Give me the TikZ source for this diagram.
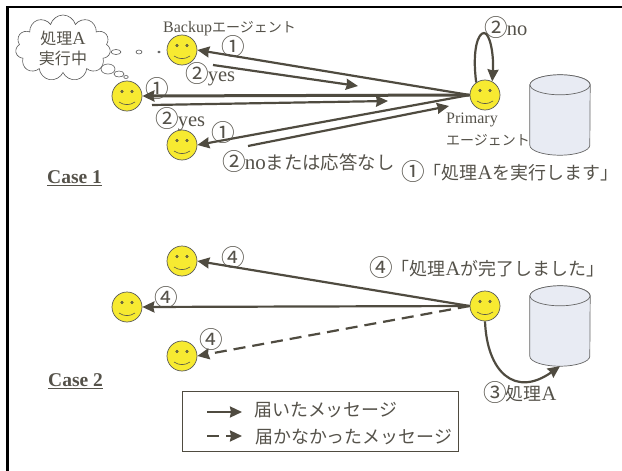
\documentclass[tikz,border=0pt]{standalone}
\usepackage{fontspec}
\setmainfont{Liberation Serif}
\newfontfamily\cjk[Scale=0.875]{Noto Sans CJK JP}
\usetikzlibrary{arrows.meta,shapes.symbols,shapes.geometric}
\definecolor{inkgray}{HTML}{4F4B40}
\definecolor{textgray}{HTML}{55524A}
\definecolor{faceyellow}{HTML}{F7EA31}
\definecolor{diskblue}{HTML}{E8EBF3}
\newcommand{\jp}[1]{{\cjk #1}}
\newcommand{\cnum}[1]{{\cjk\fontsize{27}{27}\selectfont\kern-2.5pt\raisebox{-1.5pt}{#1}\kern-1.5pt}}
\newcommand{\drawdisk}[1]{
    \draw[disk line] ([yshift=-10pt]#1.north west) -- ([yshift=10pt]#1.south west)
        arc[start angle=180,end angle=360,x radius=30pt,y radius=10pt]
        -- ([yshift=-10pt]#1.north east)
        arc[start angle=0,end angle=180,x radius=30pt,y radius=10pt] -- cycle;
    \draw[disk line] ([yshift=-10pt]#1.north) ellipse[x radius=30pt,y radius=10pt];
}
\begin{document}
\begin{tikzpicture}[x=1pt,y=-1pt,>={Stealth[length=12pt,width=11pt,inset=1pt]},
    face node/.style={circle,draw=black!65,fill=faceyellow,minimum size=30pt,inner sep=0pt,line width=0.7pt,
        path picture={
            \coordinate (c) at (path picture bounding box.center);
            \draw[line width=0.5pt,draw=black!70,fill=faceyellow!60!black] ([shift={(-5,-4.5)}]c) circle (1.3pt);
            \draw[line width=0.5pt,draw=black!70,fill=faceyellow!60!black] ([shift={(5,-4.5)}]c) circle (1.3pt);
            \draw[line width=0.6pt,draw=black!70] ([shift={(-8,6)}]c) .. controls ([shift={(-3,9.5)}]c) and ([shift={(3,9.5)}]c) .. ([shift={(8,6)}]c);
        }},
    disk node/.style={minimum width=60pt,minimum height=80pt,inner sep=0pt},
    disk line/.style={draw=black!60,fill=diskblue,line width=0.7pt},
    big text/.style={font=\fontsize{20.5}{23}\selectfont,text=textgray,inner sep=0pt},
    small text/.style={font=\fontsize{16}{18}\selectfont,text=textgray,inner sep=0pt},
    case text/.style={font=\fontsize{19.5}{22}\selectfont\bfseries,text=textgray,inner sep=0pt},
    bubble/.style={ellipse,draw=black!65,fill=white,inner sep=0pt,line width=0.6pt},
    msg/.style={->,draw=inkgray,line width=2.2pt},
    msg thick/.style={->,draw=inkgray,line width=3pt},
    msg lost/.style={->,draw=inkgray,line width=2.2pt,dash pattern=on 12pt off 7pt}]
    \useasboundingbox (0,0) rectangle (622,471);
    \draw[line width=2.6pt] (7.3,471) -- (7.3,7) -- (622,7);

    \node[face node] (b1) at (182,50) {};
    \node[face node] (m1) at (127,96) {};
    \node[face node] (l1) at (182,145) {};
    \node[face node] (p1) at (485,95) {};
    \node[disk node] (d1) at (560,115) {};
    \drawdisk{d1}

    \node[cloud,cloud puffs=11,aspect=1.45,draw=black!65,line width=0.6pt,minimum width=95pt,minimum height=66pt,inner sep=0pt,
        font=\fontsize{18.3}{20}\selectfont,text=textgray,align=center] (cloud1) at (63,48) {\jp{処理}A\\\jp{実行中}};
    \node[bubble,minimum width=10pt,minimum height=5pt] (t1) at (116,52) {};
    \node[bubble,minimum width=6pt,minimum height=4pt] (t2) at (139,52) {};
    \node[bubble,minimum width=2.5pt,minimum height=2pt] (t3) at (159,52) {};
    \node[bubble,minimum width=14pt,minimum height=10pt] (t4) at (108,69) {};
    \node[bubble,minimum width=10pt,minimum height=6pt] (t5) at (119,74) {};
    \node[bubble,minimum width=4.5pt,minimum height=3pt] (t6) at (126,77) {};

    \coordinate (yes1a) at (213,65);
    \coordinate (yes1b) at (358,86);
    \coordinate (yes2a) at (152,105);
    \coordinate (yes2b) at (388,101);
    \coordinate (non1a) at (248,146);
    \coordinate (non1b) at (449,106);
    \coordinate (looptop) at (484,33);

    \path (p1.west) edge[msg] (b1.east)
          (p1.west) edge[msg thick] (m1.east)
          (p1.west) edge[msg] (l1.east)
          (yes1a) edge[msg] (yes1b)
          (yes2a) edge[msg] (yes2b)
          (non1a) edge[msg] (non1b);
    \draw[msg] (p1.125) .. controls (472,50) and (478,33) .. (looptop) .. controls (490,33) and (494,55) .. (p1.62);

    \node[small text,anchor=west] (backup) at (163,29) {Backup\jp{エージェント}};
    \node[small text,anchor=west] (prim) at (446,119.5) {Primary};
    \node[small text,anchor=west] (agent) at (446,140) {\jp{エージェント}};
    \node[big text] (n1) at (234,47) {\cnum{①}};
    \node[big text,anchor=west] (n2) at (188,74) {\cnum{②}yes};
    \node[big text] (n3) at (158,89) {\cnum{①}};
    \node[big text,anchor=west] (n4) at (158,119) {\cnum{②}yes};
    \node[big text] (n5) at (224,133) {\cnum{①}};
    \node[big text,anchor=west,font=\fontsize{21}{23}\selectfont] (n6) at (225,162) {\cnum{②}no\jp{または応答なし}};
    \node[big text,anchor=west] (n7) at (487,28) {\cnum{②}no};
    \node[big text,anchor=west] (n8) at (404,172) {\cnum{①}\jp{「処理}A\jp{を実行します」}};
    \node[case text,anchor=west] (case1) at (47,178) {\underline{Case 1}};

    \node[face node] (b2) at (182,261) {};
    \node[face node] (m2) at (127,307) {};
    \node[face node] (l2) at (182,356) {};
    \node[face node] (p2) at (485,306) {};
    \node[disk node] (d2) at (560,326) {};
    \drawdisk{d2}

    \path (p2.west) edge[msg] (b2.east)
          (p2.west) edge[msg] (m2.east)
          (p2.west) edge[msg lost] (l2.east);
    \draw[msg] (p2.south) .. controls (487,372) and (515,398) .. (d2.south);

    \node[big text] (n9) at (234,258) {\cnum{④}};
    \node[big text] (n10) at (167,298) {\cnum{④}};
    \node[big text] (n11) at (212,340) {\cnum{④}};
    \node[big text,anchor=west] (n12) at (372,268) {\cnum{④}\jp{「処理}A\jp{が完了しました」}};
    \node[big text,anchor=west] (n13) at (486,393) {\cnum{③}\jp{処理}A};
    \node[case text,anchor=west] (case2) at (48,381) {\underline{Case 2}};

    \node[draw=inkgray,line width=0.7pt,minimum width=276pt,minimum height=60pt,inner sep=0pt] (legend) at (320,421) {};
    \coordinate (leg1a) at (207,412);
    \coordinate (leg1b) at (242,412);
    \coordinate (leg2a) at (207,436);
    \coordinate (leg2b) at (242,436);
    \path (leg1a) edge[msg] (leg1b)
          (leg2a) edge[msg lost] (leg2b);
    \node[big text,anchor=west] (leg1) at (254,410) {\jp{届いたメッセージ}};
    \node[big text,anchor=west] (leg2) at (255,437) {\jp{届かなかったメッセージ}};
\end{tikzpicture}
\end{document}
